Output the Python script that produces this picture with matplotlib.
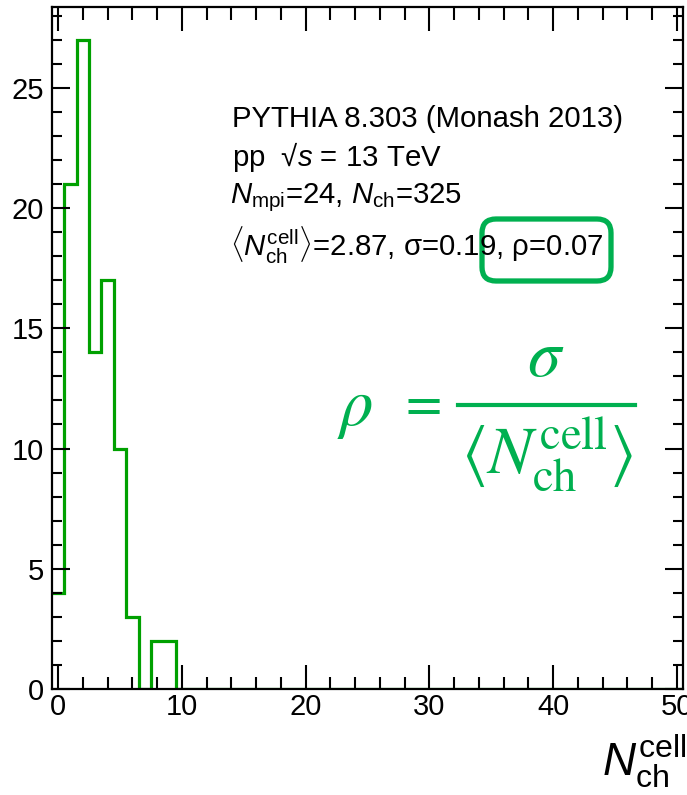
import numpy as np
import matplotlib
matplotlib.use("Agg")
import matplotlib.pyplot as plt
from matplotlib.patches import FancyBboxPatch
from matplotlib.lines import Line2D
from matplotlib.transforms import IdentityTransform

# ---- data ----
bin_centers = list(range(0, 51))
counts = [4, 21, 27, 14, 17, 10, 3, 0, 2, 2] + [0] * 41
xticks_major = [0, 10, 20, 30, 40, 50]
yticks_major = [0, 5, 10, 15, 20, 25]

info_lines = [
    "PYTHIA 8.303 (Monash 2013)",
    "pp  \u221a$s$ = 13 TeV",
    r"$N_{\mathrm{mpi}}$=24, $N_{\mathrm{ch}}$=325",
    r"$\langle N_{\mathrm{ch}}^{\mathrm{cell}}\rangle$" + "=2.87, \u03c3=0.19, \u03c1=0.07",
]

plt.rcParams["font.family"] = ["Liberation Sans", "DejaVu Sans"]
plt.rcParams["mathtext.fontset"] = "custom"
plt.rcParams["mathtext.rm"] = "Liberation Sans"
plt.rcParams["mathtext.it"] = "Liberation Sans:italic"
plt.rcParams["mathtext.bf"] = "Liberation Sans:bold"

W, H = 687, 795
GREEN = "#00B050"
fig = plt.figure(figsize=(W / 100, H / 100), dpi=100)
ax = fig.add_axes([52 / W, 1 - 689 / H, (683 - 52) / W, (689 - 7.3) / H])

edges = np.arange(len(bin_centers) + 1) - 0.5
ax.stairs(counts, edges, color="#00A000", linewidth=2.3, baseline=None)

ax.set_xlim(-0.5, 50.5)
ax.set_ylim(0, 28.35)
ax.set_xticks(xticks_major)
ax.set_xticks(np.arange(0, 51, 2), minor=True)
ax.set_yticks(yticks_major)
ax.set_yticks(np.arange(0, 29, 1), minor=True)
ax.tick_params(which="both", direction="in", top=True, right=True, width=1.5, colors="black")
ax.tick_params(axis="x", which="major", length=17, labelsize=21, pad=3)
ax.tick_params(axis="x", which="minor", length=9)
ax.tick_params(axis="y", which="major", length=13, labelsize=21, pad=6)
ax.tick_params(axis="y", which="minor", length=7)
for sp in ax.spines.values():
    sp.set_linewidth(1.6)

def px(x, y):
    return x / W, 1 - y / H

# info text
ys = [127, 166, 203, 256]
xs = [232, 232, 230, 230]
for t, x, y in zip(info_lines, xs, ys):
    fig.text(*px(x, y), t, fontsize=21.2, va="baseline", ha="left")

# green highlight box
box = FancyBboxPatch((482, H - 281), 129, 62,
                     boxstyle="round,pad=0,rounding_size=14",
                     transform=IdentityTransform(), fill=False,
                     edgecolor=GREEN, linewidth=3.8)
fig.patches.append(box)

# formula  rho = sigma / <N_ch^cell>
fs = 48
fig.text(*px(337, 425), r"$\rho$", fontsize=fs, color=GREEN, va="baseline",
         ha="left", math_fontfamily="stix")
fig.text(*px(420, 419), r"$=$", fontsize=38, color=GREEN, va="baseline",
         ha="center", math_fontfamily="stix")
fig.text(*px(546, 376), r"$\sigma$", fontsize=fs, color=GREEN, va="baseline",
         ha="center", math_fontfamily="stix")
fig.lines.append(Line2D([458 / W, 635 / W], [1 - 405 / H, 1 - 405 / H],
                        transform=fig.transFigure, color=GREEN, linewidth=3))
fig.text(*px(547, 473), r"$\langle N_{\mathrm{ch}}^{\mathrm{cell}}\rangle$",
         fontsize=fs, color=GREEN, va="baseline", ha="center",
         math_fontfamily="stix")

# x label
fig.text(*px(686, 790), r"$N_{\mathrm{ch}}^{\mathrm{cell}}$",
         fontsize=33, ha="right", va="bottom")

fig.savefig("out.png", dpi=100)
